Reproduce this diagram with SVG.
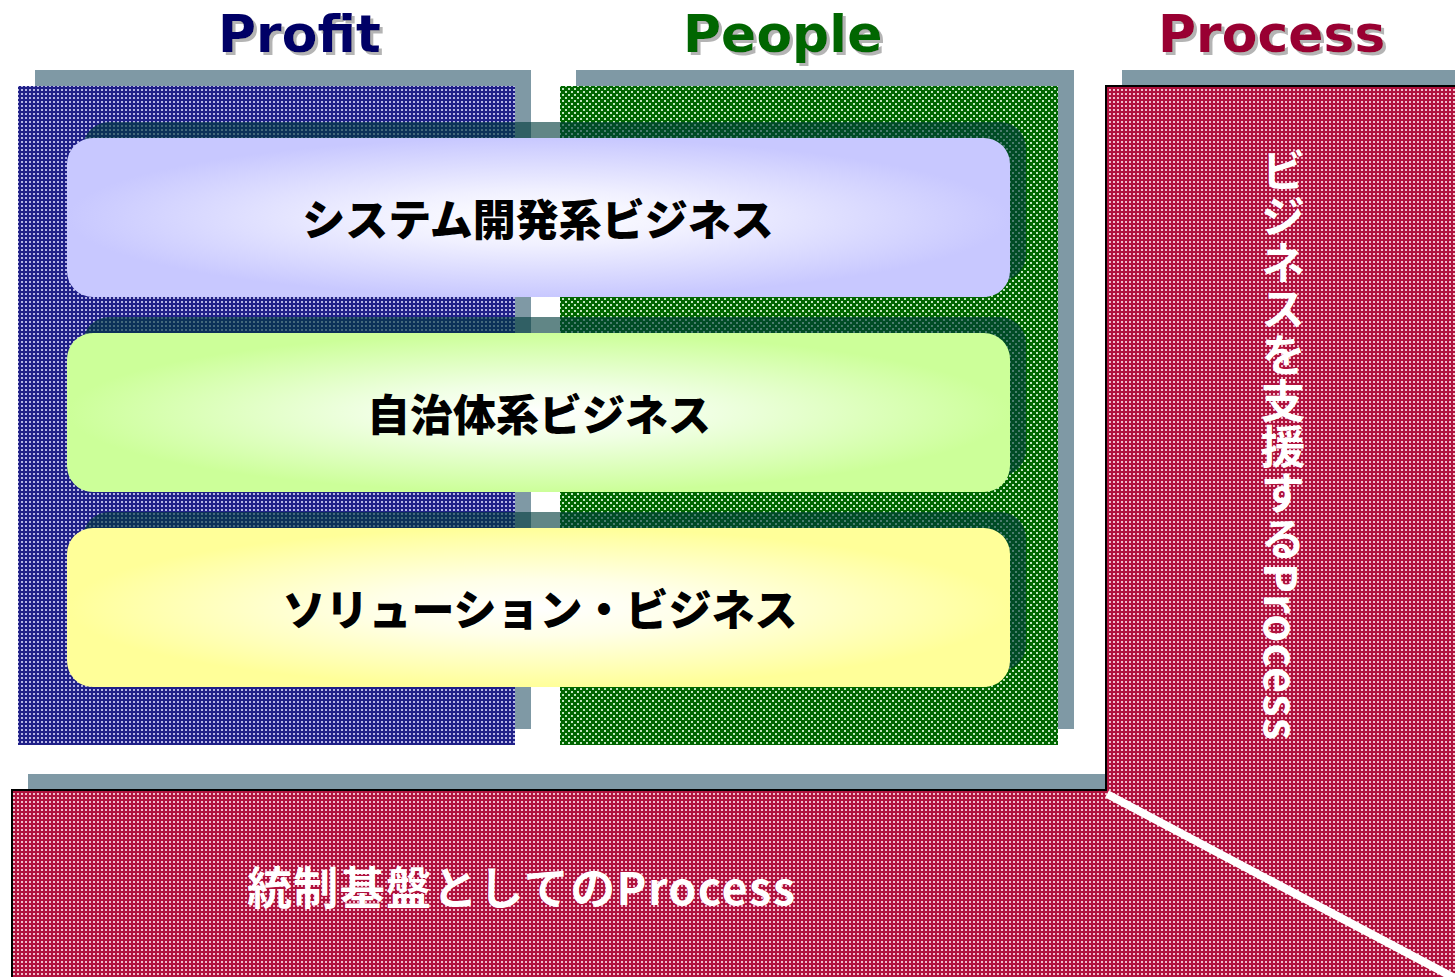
<svg xmlns="http://www.w3.org/2000/svg" width="1455" height="977" viewBox="0 0 1455 977">
<style>
.hdr{font-family:"DejaVu Sans","Liberation Sans",sans-serif;font-weight:bold;font-size:52px;filter:url(#tsh)}
.gray{fill:#7f99a5}
.boxsh{fill:#003c3c;fill-opacity:0.62}
.btxt{font-family:"Noto Sans CJK JP","Noto Sans",sans-serif;font-weight:900;font-size:43px;fill:#000;text-anchor:middle}
.wtxt{font-family:"Noto Sans CJK JP","Noto Sans",sans-serif;font-weight:bold;font-size:45px;fill:#fff}
</style>
<defs>
<filter id="tsh" x="-10%" y="-20%" width="130%" height="150%">
<feDropShadow dx="3" dy="3" stdDeviation="0.6" flood-color="#b4b4b4" flood-opacity="1"/>
</filter>
<pattern id="pBlue" width="4" height="4" patternUnits="userSpaceOnUse">
<rect width="4" height="4" fill="#202088"/>
<rect x="1" y="1" width="2" height="2" fill="#b4b4e4"/>
</pattern>
<pattern id="pRed" width="4" height="4" patternUnits="userSpaceOnUse">
<rect width="4" height="4" fill="#b0123e"/>
<rect x="1" y="1" width="2" height="2" fill="#f0bccb"/>
</pattern>
<pattern id="pGreen" width="6" height="6" patternUnits="userSpaceOnUse">
<rect width="6" height="6" fill="#006600"/>
<rect x="1" y="1" width="2" height="2" fill="#c0e4c0"/>
<rect x="4" y="4" width="2" height="2" fill="#c0e4c0"/>
</pattern>
<radialGradient id="gBlue" cx="0.5" cy="0.5" r="0.5">
<stop offset="0" stop-color="#ffffff"/>
<stop offset="0.35" stop-color="#f0f0ff"/>
<stop offset="1" stop-color="#c8c8ff"/>
</radialGradient>
<radialGradient id="gGreen" cx="0.5" cy="0.5" r="0.5">
<stop offset="0" stop-color="#ffffff"/>
<stop offset="0.35" stop-color="#f0ffe4"/>
<stop offset="1" stop-color="#ccff99"/>
</radialGradient>
<radialGradient id="gYellow" cx="0.5" cy="0.5" r="0.5">
<stop offset="0" stop-color="#ffffff"/>
<stop offset="0.35" stop-color="#ffffe8"/>
<stop offset="1" stop-color="#ffff99"/>
</radialGradient>
</defs>

<g id="headers">
<text class="hdr" x="218" y="52" fill="#000066">Profit</text>
<text class="hdr" x="683" y="52" fill="#006600">People</text>
<text class="hdr" x="1158" y="52" fill="#990033">Process</text>
</g>

<g id="profit-panel">
<rect class="gray" x="35" y="70" width="496" height="659"/>
<rect x="18" y="86" width="497" height="659" fill="url(#pBlue)"/>
</g>

<g id="people-panel">
<rect class="gray" x="576" y="70" width="498" height="659"/>
<rect x="560" y="86" width="498" height="659" fill="url(#pGreen)"/>
</g>

<g id="process-panel">
<rect class="gray" x="1122" y="70" width="340" height="16"/>
<rect class="gray" x="28" y="774" width="1078" height="16"/>
<path d="M12,990 L12,790 L1106,790 L1106,86 L1460,86 L1460,990 Z" fill="url(#pRed)" stroke="#000" stroke-width="2"/>
<line x1="1107" y1="794" x2="1460" y2="981" stroke="#fff" stroke-width="8"/>
<text class="wtxt" x="1283" y="148" style="writing-mode:vertical-rl" textLength="592" lengthAdjust="spacing">ビジネスを支援するProcess</text>
<text class="wtxt" x="247" y="905" textLength="548" lengthAdjust="spacing">統制基盤としてのProcess</text>
</g>

<g id="box-system">
<rect class="boxsh" x="83" y="122" width="943" height="159" rx="26"/>
<rect x="67" y="138" width="943" height="159" rx="26" fill="url(#gBlue)"/>
<text class="btxt" x="538" y="236">システム開発系ビジネス</text>
</g>

<g id="box-jichitai">
<rect class="boxsh" x="83" y="317" width="943" height="159" rx="26"/>
<rect x="67" y="333" width="943" height="159" rx="26" fill="url(#gGreen)"/>
<text class="btxt" x="539" y="431">自治体系ビジネス</text>
</g>

<g id="box-solution">
<rect class="boxsh" x="83" y="512" width="943" height="159" rx="26"/>
<rect x="67" y="528" width="943" height="159" rx="26" fill="url(#gYellow)"/>
<text class="btxt" x="540" y="626">ソリューション・ビジネス</text>
</g>
</svg>
